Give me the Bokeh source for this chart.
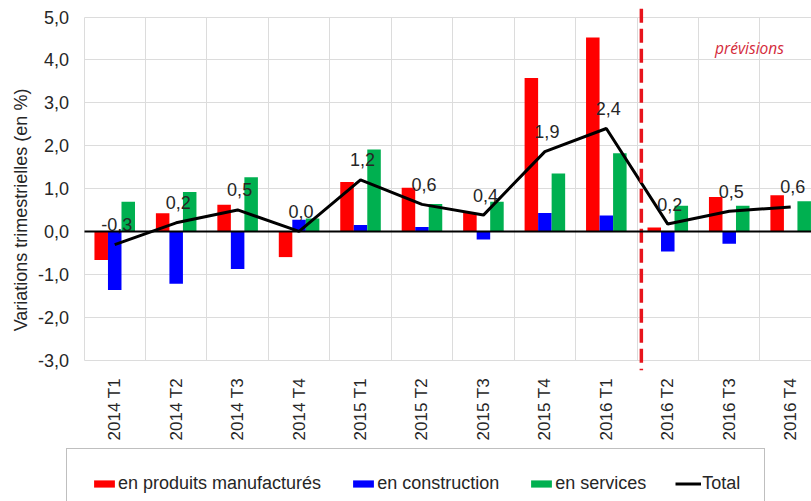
from bokeh.plotting import figure
from bokeh.models import (Range1d, FixedTicker, CustomJSTickFormatter, Label, Grid,
                          Legend, LegendItem, ColumnDataSource)
from bokeh.embed import file_html
from bokeh.resources import INLINE
from bokeh.core.properties import value
import math

quarters = ["2014 T1", "2014 T2", "2014 T3", "2014 T4",
            "2015 T1", "2015 T2", "2015 T3", "2015 T4",
            "2016 T1", "2016 T2", "2016 T3", "2016 T4"]
manufactures = [-0.67, 0.42, 0.62, -0.60, 1.15, 1.02, 0.43, 3.58, 4.52, 0.09, 0.80, 0.84]
construction = [-1.37, -1.22, -0.88, 0.27, 0.15, 0.10, -0.19, 0.43, 0.37, -0.47, -0.29, 0.0]
services = [0.69, 0.92, 1.26, 0.30, 1.91, 0.64, 0.69, 1.35, 1.82, 0.60, 0.60, 0.70]
total = [-0.31, 0.20, 0.50, 0.00, 1.20, 0.63, 0.38, 1.86, 2.40, 0.17, 0.47, 0.57]
y_ticks = [-3, -2, -1, 0, 1, 2, 3, 4, 5]
series_names = ["en produits manufacturés", "en construction", "en services", "Total"]
series_colors = ["#FF0000", "#0000FF", "#00B050", "black"]
forecast_start = "2016 T2"

FONT = "Liberation Sans"
W, H = 811, 501
n = len(quarters)
centers = [i + 0.5 for i in range(n)]
bw = 0.22

# plotting area geometry (pixels): category axis starts at x=83.5, 61.45 px per quarter;
# value 5 at y=16.5, 42.875 px per unit
px_x, x0_px = 61.45, 83.5
px_y, ytop_px = 42.875, 16.5
y_max, y_min = max(y_ticks), min(y_ticks)
x_start = -x0_px / px_x
x_end = (W - x0_px) / px_x
y_end = y_max + ytop_px / px_y
y_start = y_end - H / px_y

p = figure(width=W, height=H, output_backend="svg", toolbar_location=None,
           x_range=Range1d(x_start, x_end), y_range=Range1d(y_start, y_end),
           min_border_left=0, min_border_right=0, min_border_top=0, min_border_bottom=0)
p.outline_line_color = None

# grids (limited to the plotting area)
p.xgrid.ticker = FixedTicker(ticks=list(range(0, n + 1)))
p.xgrid.grid_line_color = "#dcdcdc"
p.xgrid.cross_bounds = (y_min, y_max)
p.ygrid.ticker = FixedTicker(ticks=y_ticks)
p.ygrid.grid_line_color = "#dcdcdc"
p.ygrid.cross_bounds = (0, n)

# axes drawn at fixed locations inside the canvas
p.xaxis.fixed_location = y_min
p.xaxis.ticker = FixedTicker(ticks=centers)
p.xaxis.major_label_overrides = {c: q for c, q in zip(centers, quarters)}
p.xaxis.major_label_orientation = math.pi / 2
p.xaxis.major_label_standoff = 18
p.xaxis.major_tick_out = 0
p.xaxis.major_tick_in = 0
p.xaxis.major_label_text_font = FONT
p.xaxis.major_label_text_font_size = "17px"
p.xaxis.major_label_text_color = "#262626"
p.xaxis.axis_line_color = None
p.xaxis.major_tick_line_color = None
p.xaxis.minor_tick_line_color = None

p.yaxis.fixed_location = 0
p.yaxis.bounds = (y_min - 0.98, y_max)
p.yaxis.ticker = FixedTicker(ticks=y_ticks)
p.yaxis.formatter = CustomJSTickFormatter(code="return tick.toFixed(1).replace('.', ',');")
p.yaxis.major_label_standoff = 15
p.yaxis.major_tick_out = 0
p.yaxis.major_tick_in = 0
p.yaxis.major_label_text_font = FONT
p.yaxis.major_label_text_font_size = "18px"
p.yaxis.major_label_text_color = "#262626"
p.yaxis.axis_line_color = None
p.yaxis.major_tick_line_color = None
p.yaxis.minor_tick_line_color = None
p.yaxis.axis_label = "Variations trimestrielles (en %)"
p.yaxis.axis_label_text_font = FONT
p.yaxis.axis_label_text_font_size = "18px"
p.yaxis.axis_label_text_font_style = "normal"
p.yaxis.axis_label_text_color = "#262626"
p.yaxis.axis_label_standoff = 4

src = ColumnDataSource(dict(x=centers, t=total,
                            lab=[f"{v:.1f}".replace(".", ",") for v in total]))

r_m = p.vbar(x=[c - bw for c in centers], top=manufactures, bottom=0, width=bw,
             fill_color=series_colors[0], line_color=None)
r_c = p.vbar(x=centers, top=construction, bottom=0, width=bw,
             fill_color=series_colors[1], line_color=None)
r_s = p.vbar(x=[c + bw for c in centers], top=services, bottom=0, width=bw,
             fill_color=series_colors[2], line_color=None)

# zero line across the plotting area
p.add_layout(Grid(dimension=1, ticker=FixedTicker(ticks=[0]), cross_bounds=(0, n),
                  grid_line_color="black", grid_line_width=2, level="annotation"))

r_t = p.line(x="x", y="t", source=src, line_color=series_colors[3], line_width=3)
p.text(x="x", y="t", text="lab", source=src, text_font=value(FONT), text_font_size="18px",
       text_color="#262626", text_align="center", text_baseline="middle",
       x_offset=2, y_offset=-20)

# forecast separator
fi = quarters.index(forecast_start)
p.segment(x0=[fi + 0.07], y0=[y_end - 0.19], x1=[fi + 0.07], y1=[y_min - 0.24],
          line_color="#E8141C", line_width=3.5, line_dash="14 6")
p.add_layout(Label(x=fi + 1.83, y=4.28, text="prévisions", text_font="Open Sans",
                   text_font_style="italic", text_font_size="15.5px", text_color="#D42A3A",
                   text_align="center", text_baseline="middle"))

legend = Legend(items=[
    LegendItem(label=name, renderers=[r])
    for name, r in zip(series_names, [r_m, r_c, r_s, r_t])
], orientation="horizontal", location=(66, -18),
    glyph_width=26, glyph_height=9, label_standoff=1, spacing=29, padding=24, margin=0,
    label_text_font=FONT, label_text_font_size="18px", label_text_color="#262626",
    border_line_color="#7f7f7f", border_line_width=1, background_fill_alpha=0)
p.add_layout(legend, "center")

open("out.html", "w").write(file_html(p, INLINE))
